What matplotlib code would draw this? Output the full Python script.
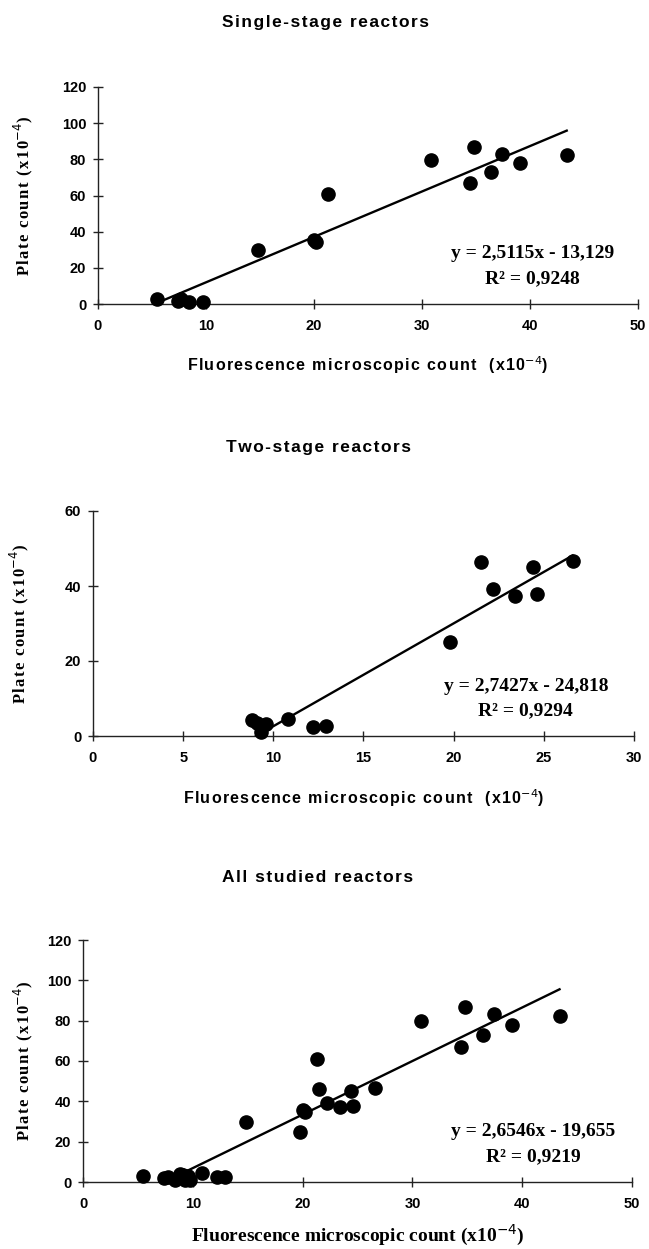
import matplotlib
matplotlib.use("Agg")
import matplotlib.pyplot as plt
import numpy as np

# ---- data ----
single_x = [5.5, 7.4, 7.7, 8.4, 9.7, 14.8, 20.0, 20.2, 21.3, 30.8, 34.4, 34.8, 36.4, 37.4, 39.1, 43.4]
single_y = [3.0, 1.8, 2.6, 1.0, 1.0, 30.0, 35.5, 34.5, 61.0, 79.7, 66.8, 87.0, 73.0, 83.2, 77.9, 82.5]

two_x = [8.8, 9.1, 9.3, 9.6, 10.8, 12.2, 12.9, 19.8, 21.5, 22.2, 23.4, 24.4, 24.6, 26.6]
two_y = [4.2, 3.5, 1.0, 3.2, 4.6, 2.3, 2.7, 25.0, 46.3, 39.2, 37.4, 45.0, 37.9, 46.8]

all_x = single_x + two_x
all_y = single_y + two_y

titles = ["Single-stage reactors", "Two-stage reactors", "All studied reactors"]
fits = [(2.5115, -13.129), (2.7427, -24.818), (2.6546, -19.655)]
eq_texts = ["y = 2,5115x - 13,129", "y = 2,7427x - 24,818", "y = 2,6546x - 19,655"]
r2_texts = ["R² = 0,9248", "R² = 0,9294", "R² = 0,9219"]
xticks_list = [[0, 10, 20, 30, 40, 50], [0, 5, 10, 15, 20, 25, 30], [0, 10, 20, 30, 40, 50]]
yticks_list = [[0, 20, 40, 60, 80, 100, 120], [0, 20, 40, 60], [0, 20, 40, 60, 80, 100, 120]]

W, H = 649, 1249
fig = plt.figure(figsize=(W / 100, H / 100), dpi=100)

HS = "\u200a"


def spaced(s):
    return HS.join(s)


def rect(l, r, t, b):
    return [l / W, 1 - b / H, (r - l) / W, (b - t) / H]

rects = [rect(98, 638, 87, 304), rect(93, 634, 511, 736), rect(83, 632, 940, 1182)]
datasets = [(single_x, single_y), (two_x, two_y), (all_x, all_y)]
title_pos = [(325, 22), (319, 448), (318, 878)]
xlab_y = [365, 798, 1241]
ylab_x = [23, 19, 23]
eq_pos = [(40.2, 28, 14), (24.0, 13.2, 6.7), (41.0, 24.8, 12.7)]

sans = ["Liberation Sans", "DejaVu Sans"]
serif = ["Liberation Serif", "DejaVu Serif"]

for i in range(3):
    ax = fig.add_axes(rects[i])
    xs, ys = datasets[i]
    xt, yt = xticks_list[i], yticks_list[i]
    ax.set_xlim(xt[0], xt[-1])
    ax.set_ylim(yt[0], yt[-1])
    ax.set_xticks(xt)
    ax.set_yticks(yt)
    for s in ["top", "right"]:
        ax.spines[s].set_visible(False)
    for s in ["left", "bottom"]:
        ax.spines[s].set_linewidth(1.0)
        ax.spines[s].set_color("#222222")
    ax.tick_params(axis="both", direction="inout", length=7, width=1.0, colors="#222222")
    ax.tick_params(axis="x", pad=7)
    ax.tick_params(axis="y", pad=5)
    for lab in ax.get_xticklabels() + ax.get_yticklabels():
        lab.set_fontfamily(sans)
        lab.set_fontweight("bold")
        lab.set_fontsize(10.5)
        lab.set_color("black")

    ax.plot(xs, ys, "o", color="black", markersize=9.5, zorder=3, clip_on=False)
    a, b = fits[i]
    lx = np.array([min(xs), max(xs)])
    ax.plot(lx, a * lx + b, color="black", linewidth=1.7, zorder=2)

    ex, ey, ry = eq_pos[i]
    ax.text(ex, ey, eq_texts[i], ha="center", va="center", fontsize=14,
            family=serif, fontweight="bold")
    ax.text(ex, ry, r2_texts[i], ha="center", va="center", fontsize=14,
            family=serif, fontweight="bold")

    tx, ty = title_pos[i]
    fig.text(tx / W, 1 - ty / H, spaced(titles[i]), ha="center", va="center",
             fontsize=12.5, family=sans, fontweight="bold")

    cx = (rects[i][0] + rects[i][2] / 2)
    if i < 2:
        fig.text(cx, 1 - xlab_y[i] / H,
                 spaced("Fluorescence microscopic count  (x10") + "$^{-4}$" + ")",
                 ha="center", va="center", fontsize=11.5, family=sans, fontweight="bold")
    else:
        fig.text(cx, 1 - 1248 / H, "Fluorescence microscopic count (x10$^{-4}$)",
                 ha="center", va="bottom", fontsize=14, family=serif, fontweight="bold")
    ymid = rects[i][1] + rects[i][3] / 2
    fig.text(ylab_x[i] / W, ymid, spaced("Plate count (x10") + "$^{-4}$" + ")",
             ha="center", va="center", rotation=90, fontsize=12, family=serif,
             fontweight="bold")

fig.savefig("out.png", dpi=100, facecolor="white")
